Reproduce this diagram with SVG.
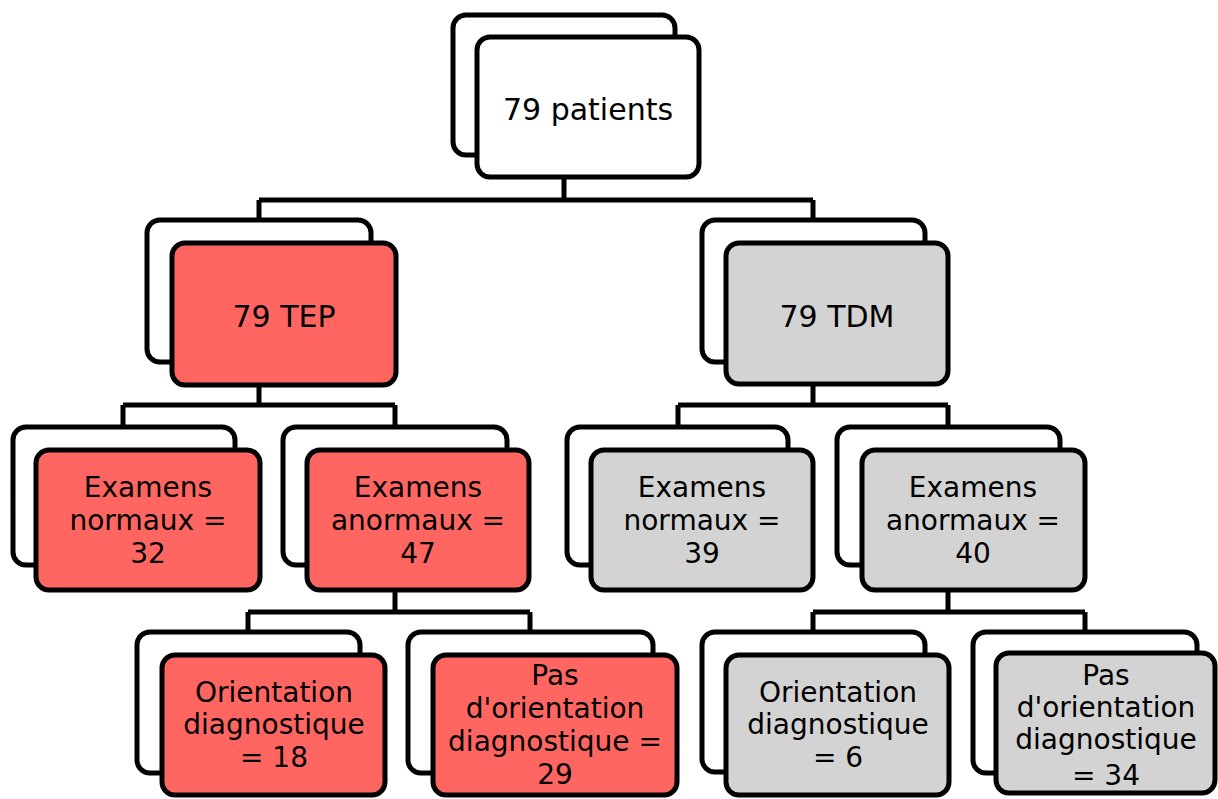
<svg xmlns="http://www.w3.org/2000/svg" width="1218" height="799" viewBox="0 0 1218 799">
<style>
.bk{fill:#ffffff;stroke:#000;stroke-width:5}
.red{fill:#FF6661;stroke:#000;stroke-width:5}
.gry{fill:#D3D3D3;stroke:#000;stroke-width:5}
.wht{fill:#ffffff;stroke:#000;stroke-width:5}
.con{fill:none;stroke:#000;stroke-width:5;stroke-linejoin:miter}
text{font-family:"DejaVu Sans","Noto Sans",sans-serif;font-size:28px;fill:#000;text-anchor:middle}
text.big{font-size:30px}
</style>
<rect width="1218" height="799" fill="#fff"/>
<g id="connectors" class="con">
<path d="M564 150V200M259 200H813M259 200V225M813 200V225"/>
<path d="M259 380V405M123 405H395M123 405V432M395 405V432"/>
<path d="M813 380V405M678 405H948M678 405V432M948 405V432"/>
<path d="M395 585V612M248 612H530M248 612V637M530 612V637"/>
<path d="M948 585V612M813 612H1085M813 612V637M1085 612V637"/>
</g>
<g id="root">
<rect class="bk" x="453" y="15" width="222" height="140" rx="13"/>
<rect class="wht" x="477" y="37" width="222" height="140" rx="13"/>
<text class="big" x="588" y="120">79 patients</text>
</g>
<g id="tep">
<rect class="bk" x="147" y="220" width="224" height="142" rx="13"/>
<rect class="red" x="172" y="243" width="224" height="142" rx="13"/>
<text class="big" x="284" y="327">79 TEP</text>
</g>
<g id="tdm">
<rect class="bk" x="702" y="220" width="223" height="142" rx="13"/>
<rect class="gry" x="726" y="243" width="222" height="141" rx="13"/>
<text class="big" x="837" y="327">79 TDM</text>
</g>
<g id="tep-normaux">
<rect class="bk" x="13" y="427" width="222" height="138" rx="13"/>
<rect class="red" x="36" y="450" width="224" height="140" rx="13"/>
<text x="148" y="497">Examens</text>
<text x="148" y="530">normaux =</text>
<text x="148" y="563">32</text>
</g>
<g id="tep-anormaux">
<rect class="bk" x="283" y="427" width="224" height="138" rx="13"/>
<rect class="red" x="307" y="450" width="222" height="140" rx="13"/>
<text x="418" y="497">Examens</text>
<text x="418" y="530">anormaux =</text>
<text x="418" y="563">47</text>
</g>
<g id="tdm-normaux">
<rect class="bk" x="567" y="427" width="221" height="138" rx="13"/>
<rect class="gry" x="591" y="450" width="222" height="140" rx="13"/>
<text x="702" y="497">Examens</text>
<text x="702" y="530">normaux =</text>
<text x="702" y="563">39</text>
</g>
<g id="tdm-anormaux">
<rect class="bk" x="837" y="427" width="223" height="138" rx="13"/>
<rect class="gry" x="862" y="450" width="223" height="140" rx="13"/>
<text x="973" y="497">Examens</text>
<text x="973" y="530">anormaux =</text>
<text x="973" y="563">40</text>
</g>
<g id="tep-orientation">
<rect class="bk" x="137" y="632" width="223" height="141" rx="13"/>
<rect class="red" x="162" y="655" width="223" height="140" rx="13"/>
<text x="274" y="702">Orientation</text>
<text x="274" y="734">diagnostique</text>
<text x="274" y="767">= 18</text>
</g>
<g id="tep-pas-orientation">
<rect class="bk" x="408" y="632" width="245" height="141" rx="13"/>
<rect class="red" x="433" y="655" width="244" height="140" rx="13"/>
<text x="555" y="685">Pas</text>
<text x="555" y="718">d'orientation</text>
<text x="555" y="751">diagnostique =</text>
<text x="555" y="784">29</text>
</g>
<g id="tdm-orientation">
<rect class="bk" x="702" y="632" width="223" height="140" rx="13"/>
<rect class="gry" x="726" y="655" width="223" height="140" rx="13"/>
<text x="838" y="702">Orientation</text>
<text x="838" y="734">diagnostique</text>
<text x="838" y="767">= 6</text>
</g>
<g id="tdm-pas-orientation">
<rect class="bk" x="973" y="632" width="224" height="141" rx="13"/>
<rect class="gry" x="996" y="653" width="219" height="140" rx="13"/>
<text x="1106" y="685">Pas</text>
<text x="1106" y="717">d'orientation</text>
<text x="1106" y="749">diagnostique</text>
<text x="1106" y="785">= 34</text>
</g>
</svg>
